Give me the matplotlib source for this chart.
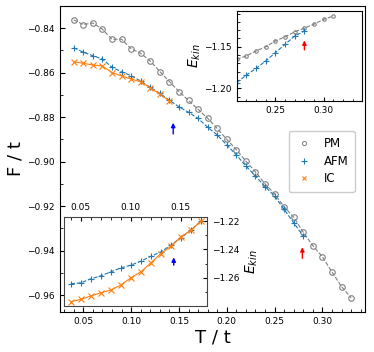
import numpy as np
import matplotlib
matplotlib.use("Agg")
import matplotlib.pyplot as plt
from matplotlib.ticker import MultipleLocator
from matplotlib.lines import Line2D

# ---- main panel data ----
T_pm = [0.04, 0.05, 0.06, 0.07, 0.08, 0.09, 0.10, 0.11, 0.12, 0.13, 0.14, 0.15, 0.16, 0.17, 0.18,
        0.19, 0.20, 0.21, 0.22, 0.23, 0.24, 0.25, 0.26, 0.27, 0.28, 0.29, 0.30, 0.31, 0.32, 0.33]
F_pm = [-0.8363, -0.8384, -0.8377, -0.8405, -0.8450, -0.8450, -0.8493, -0.8513, -0.8548, -0.8595,
        -0.8640, -0.8685, -0.8725, -0.8765, -0.8805, -0.8851, -0.8900, -0.8946, -0.8998, -0.9046,
        -0.9100, -0.9145, -0.9203, -0.9250, -0.9318, -0.9378, -0.9428, -0.9496, -0.9562, -0.9612]

T_afm = [0.04, 0.05, 0.06, 0.07, 0.08, 0.09, 0.10, 0.11, 0.12, 0.13, 0.14, 0.15, 0.16,
         0.17, 0.18, 0.19, 0.20, 0.21, 0.22, 0.23, 0.24, 0.25, 0.26, 0.27, 0.28]
F_afm = [-0.8488, -0.8508, -0.8524, -0.8539, -0.8576, -0.8596, -0.8614, -0.8638, -0.8666, -0.8693,
         -0.8724, -0.8754, -0.8778, -0.8806, -0.8845, -0.8880, -0.8925, -0.8970, -0.9020, -0.9065,
         -0.9112, -0.9155, -0.9215, -0.9275, -0.9335]

T_ic = [0.04, 0.05, 0.06, 0.07, 0.08, 0.09, 0.10, 0.11, 0.12, 0.13, 0.14]
F_ic = [-0.8551, -0.8558, -0.8566, -0.8570, -0.8600, -0.8615, -0.8629, -0.8641, -0.8668, -0.8697,
        -0.8727]

# ---- upper inset (E_kin, high T) ----
T_in1_pm = [0.21, 0.22, 0.23, 0.24, 0.25, 0.26, 0.27, 0.28, 0.29, 0.30, 0.31]
E_in1_pm = [-1.165, -1.161, -1.155, -1.150, -1.143, -1.138, -1.132, -1.1275, -1.1228, -1.117, -1.113]
T_in1_afm = [0.21, 0.22, 0.23, 0.24, 0.25, 0.26, 0.27, 0.28]
E_in1_afm = [-1.193, -1.184, -1.176, -1.167, -1.157, -1.147, -1.137, -1.131]

# ---- lower inset (E_kin, low T) ----
T_in2 = [0.04, 0.05, 0.06, 0.07, 0.08, 0.09, 0.10, 0.11, 0.12, 0.13, 0.14, 0.15, 0.16, 0.17]
E_in2_afm = [-1.2642, -1.2635, -1.2607, -1.2586, -1.2558, -1.2530, -1.2511, -1.2483, -1.2448,
             -1.2418, -1.2370, -1.2319, -1.2265, -1.2202]
E_in2_ic = [-1.2768, -1.2752, -1.2728, -1.2705, -1.2686, -1.2651, -1.2600, -1.2558, -1.2495,
            -1.2429, -1.2378, -1.2312, -1.2265, -1.2202]

labels = ["PM", "AFM", "IC"]

C_PM = "gray"
C_AFM = "#1f77b4"
C_IC = "#ff7f0e"
TICK_FS = 6.5

fig = plt.figure(figsize=(3.74, 3.52), dpi=100)
ax = fig.add_axes([0.160, 0.1145, 0.816, 0.8685])

ax.plot(T_pm, F_pm, ls="--", lw=0.8, color=C_PM, marker="o", mfc="none", ms=4, mew=0.8)
ax.plot(T_afm, F_afm, ls="--", lw=0.8, color=C_AFM, marker="+", ms=5, mew=0.8)
ax.plot(T_ic, F_ic, ls="-", lw=0.8, color=C_IC, marker="x", ms=4.5, mew=0.8)

ax.annotate("", xy=(0.144, -0.8813), xytext=(0.144, -0.8888),
            arrowprops=dict(arrowstyle="-|>", color="blue", lw=1.0, mutation_scale=6))
ax.annotate("", xy=(0.279, -0.9372), xytext=(0.279, -0.9447),
            arrowprops=dict(arrowstyle="-|>", color="red", lw=1.0, mutation_scale=6))

ax.set_xlabel("T / t", fontsize=13, labelpad=2)
ax.set_ylabel("F / t", fontsize=13, labelpad=2)
ax.xaxis.set_major_locator(MultipleLocator(0.05))
ax.xaxis.set_minor_locator(MultipleLocator(0.01))
ax.yaxis.set_major_locator(MultipleLocator(0.02))
ax.yaxis.set_minor_locator(MultipleLocator(0.01))
ax.tick_params(which="both", direction="in", labelsize=TICK_FS)
ax.tick_params(which="major", length=3.5)
ax.tick_params(which="minor", length=2)

handles = [
    Line2D([], [], ls="none", color=C_PM, marker="o", mfc="none", ms=3, mew=0.7),
    Line2D([], [], ls="none", color=C_AFM, marker="+", ms=4, mew=0.8),
    Line2D([], [], ls="none", color=C_IC, marker="x", ms=3.5, mew=0.8),
]
ax.legend(handles, labels, loc="upper right", bbox_to_anchor=(0.986, 0.612), fontsize=8.5,
          handlelength=1.4, handletextpad=1.0, borderpad=0.55, labelspacing=0.4, framealpha=1)

# upper inset
ax1 = fig.add_axes([0.633, 0.713, 0.336, 0.2557])
ax1.plot(T_in1_pm, E_in1_pm, ls="--", lw=0.8, color=C_PM, marker="o", mfc="none", ms=2.5, mew=0.8)
ax1.plot(T_in1_afm, E_in1_afm, ls="--", lw=0.8, color=C_AFM, marker="+", ms=4, mew=0.8)
ax1.annotate("", xy=(0.280, -1.139), xytext=(0.280, -1.157),
             arrowprops=dict(arrowstyle="-|>", color="red", lw=1.0, mutation_scale=6))
ax1.set_xlim(0.21, 0.34)
ax1.set_ylim(-1.2152, -1.107)
ax1.xaxis.set_major_locator(MultipleLocator(0.05))
ax1.xaxis.set_minor_locator(MultipleLocator(0.01))
ax1.yaxis.set_major_locator(MultipleLocator(0.05))
ax1.yaxis.set_minor_locator(MultipleLocator(0.01))
ax1.tick_params(which="both", direction="in", labelsize=TICK_FS)
ax1.tick_params(which="major", length=3)
ax1.tick_params(which="minor", length=1.8)
ax1.set_ylabel(r"$E_{kin}$", fontsize=10, labelpad=1)

# lower inset
ax2 = fig.add_axes([0.172, 0.1315, 0.382, 0.251])
ax2.plot(T_in2, E_in2_afm, ls="--", lw=0.8, color=C_AFM, marker="+", ms=5, mew=0.8)
ax2.plot(T_in2, E_in2_ic, ls="-", lw=0.8, color=C_IC, marker="x", ms=4.5, mew=0.8)
ax2.annotate("", xy=(0.143, -1.2436), xytext=(0.143, -1.2530),
             arrowprops=dict(arrowstyle="-|>", color="blue", lw=1.0, mutation_scale=6))
ax2.xaxis.set_major_locator(MultipleLocator(0.05))
ax2.xaxis.set_minor_locator(MultipleLocator(0.01))
ax2.yaxis.set_major_locator(MultipleLocator(0.02))
ax2.yaxis.set_minor_locator(MultipleLocator(0.01))
ax2.xaxis.tick_top()
ax2.yaxis.tick_right()
ax2.yaxis.set_label_position("right")
ax2.tick_params(which="both", direction="in", labelsize=TICK_FS)
ax2.tick_params(which="major", length=3)
ax2.tick_params(which="minor", length=1.8)
ax2.set_ylabel(r"$E_{kin}$", fontsize=10, labelpad=3)
for s in ax2.spines.values():
    s.set_edgecolor("#444444")

fig.savefig("out.png", dpi=100)
